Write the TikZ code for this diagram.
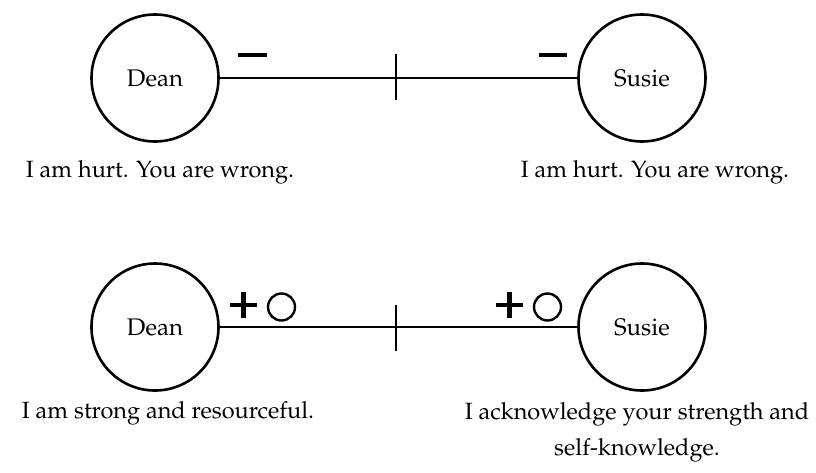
\documentclass[tikz,border=0pt]{standalone}
\usepackage[T1]{fontenc}
\usepackage{mathpazo}
\begin{document}
\begin{tikzpicture}[x=1pt,y=-1pt,
  person/.style={circle,draw,line width=2.6pt,minimum size=127pt,inner sep=0pt,font=\fontsize{24}{28}\selectfont},
  caption/.style={font=\fontsize{23.5}{36}\selectfont,align=center,inner sep=0pt},
  link/.style={line width=1.1pt},
  tickmark/.style={line width=1.3pt},
  sym/.style={line width=4.5pt},
  ring/.style={line width=2.4pt}]
\useasboundingbox (0,0) rectangle (816,472);
% top row
\node[person] (d1) at (155,78) {Dean};
\node[person] (s1) at (642,78) {Susie};
\draw[link] (d1) -- (s1);
\coordinate (t1a) at (396,54);
\coordinate (t1b) at (396,100);
\draw[tickmark] (t1a) -- (t1b);
\coordinate (m1a) at (238,55); \coordinate (m1b) at (267,55);
\draw[sym] (m1a) -- (m1b);
\coordinate (m2a) at (539,55); \coordinate (m2b) at (567,55);
\draw[sym] (m2a) -- (m2b);
\node[caption] (c1) at (160,172) {I am hurt. You are wrong.};
\node[caption] (c2) at (655,172) {I am hurt. You are wrong.};
% bottom row
\node[person] (d2) at (155,327) {Dean};
\node[person] (s2) at (642,327) {Susie};
\draw[link] (d2) -- (s2);
\coordinate (t2a) at (396,305);
\coordinate (t2b) at (396,351);
\draw[tickmark] (t2a) -- (t2b);
\coordinate (p1h1) at (230,305); \coordinate (p1h2) at (257,305);
\coordinate (p1v1) at (243.5,292); \coordinate (p1v2) at (243.5,318);
\draw[sym] (p1h1) -- (p1h2); \draw[sym] (p1v1) -- (p1v2);
\coordinate (o1) at (281.5,307);
\draw[ring] (o1) circle (13.5);
\coordinate (p2h1) at (496,305); \coordinate (p2h2) at (523,305);
\coordinate (p2v1) at (509.5,292); \coordinate (p2v2) at (509.5,318);
\draw[sym] (p2h1) -- (p2h2); \draw[sym] (p2v1) -- (p2v2);
\coordinate (o2) at (547.5,307);
\draw[ring] (o2) circle (13.5);
\node[caption] (c3) at (168,413) {I am strong and resourceful.};
\node[caption,anchor=north] (c4) at (637,402) {I acknowledge your strength and\\self-knowledge.};
\end{tikzpicture}
\end{document}
